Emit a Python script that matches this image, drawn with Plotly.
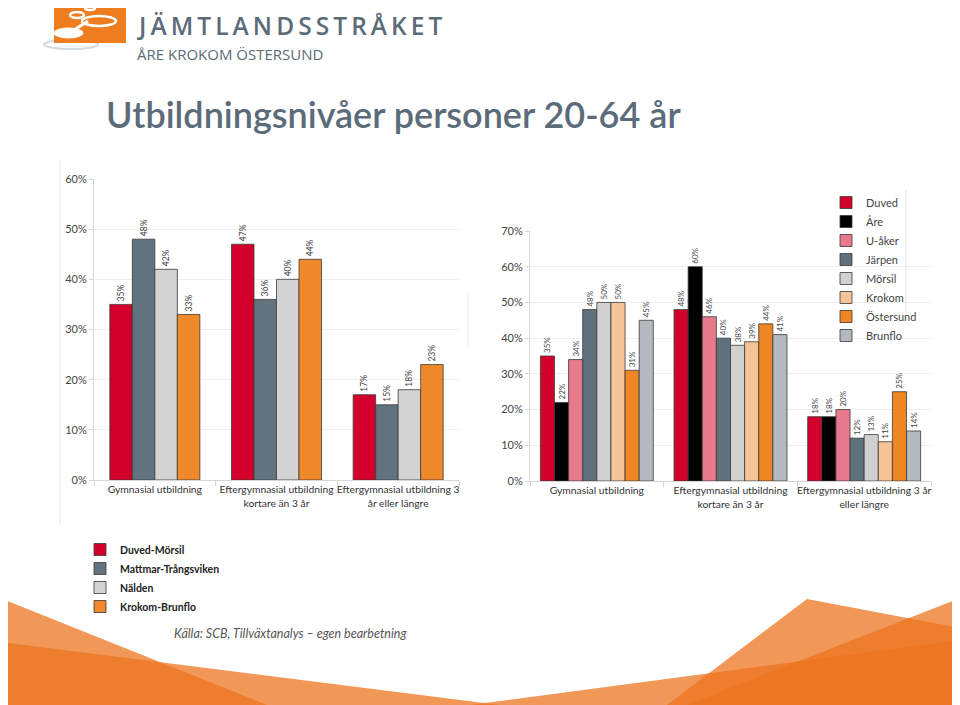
import plotly.graph_objects as go

# ---------------- data ----------------
left_categories = ["Gymnasial utbildning",
                   "Eftergymnasial utbildning<br>kortare än 3 år",
                   "Eftergymnasial utbildning 3<br>år eller längre"]
left_series = ["Duved-Mörsil", "Mattmar-Trångsviken", "Nälden", "Krokom-Brunflo"]
duved_morsil = [35, 47, 17]
mattmar_trangsviken = [48, 36, 15]
nalden = [42, 40, 18]
krokom_brunflo = [33, 44, 23]
left_values = [duved_morsil, mattmar_trangsviken, nalden, krokom_brunflo]
left_colors = ["#d2002a", "#61737f", "#d3d3d3", "#f0892a"]

right_categories = ["Gymnasial utbildning",
                    "Eftergymnasial utbildning<br>kortare än 3 år",
                    "Eftergymnasial utbildning 3 år<br>eller längre"]
right_series = ["Duved", "Åre", "U-åker", "Järpen", "Mörsil", "Krokom", "Östersund", "Brunflo"]
duved = [35, 48, 18]
are = [22, 60, 18]
u_aker = [34, 46, 20]
jarpen = [48, 40, 12]
morsil = [50, 38, 13]
krokom = [50, 39, 11]
ostersund = [31, 44, 25]
brunflo = [45, 41, 14]
right_values = [duved, are, u_aker, jarpen, morsil, krokom, ostersund, brunflo]
right_colors = ["#d2002a", "#000000", "#e9798c", "#5f717d", "#d0d0d0", "#f6c396", "#ef8624", "#b3b9bf"]

left_ticks = [0, 10, 20, 30, 40, 50, 60]
right_ticks = [0, 10, 20, 30, 40, 50, 60, 70]

W, H = 960, 705
OFF = 8  # page body margin
FONT = "Lato"


def fx(x):
    return (x - OFF) / W


def fy(y):
    return 1 - (y - OFF) / H


def path(points):
    s = ""
    for i, (x, y) in enumerate(points):
        s += ("M" if i == 0 else "L") + f"{fx(x):.5f},{fy(y):.5f} "
    return s + "Z"


fig = go.Figure()

# left chart
n_l = len(left_series)
grp_l = 0.74
w_l = grp_l / n_l
for i, (name, vals, col) in enumerate(zip(left_series, left_values, left_colors)):
    fig.add_trace(go.Bar(
        x=left_categories, y=vals, name=name,
        marker=dict(color=col, line=dict(color="#3a3a3a", width=0.8)),
        width=w_l, offset=-grp_l / 2 + i * w_l,
        text=[f"{v}%" for v in vals], textposition="outside", textangle=-90,
        outsidetextfont=dict(family=FONT, size=8.5, color="#444444"),
        constraintext="none", cliponaxis=False,
        xaxis="x", yaxis="y", legend="legend",
    ))

# right chart
n_r = len(right_series)
grp_r = 0.845
w_r = grp_r / n_r
for i, (name, vals, col) in enumerate(zip(right_series, right_values, right_colors)):
    fig.add_trace(go.Bar(
        x=right_categories, y=vals, name=name,
        marker=dict(color=col, line=dict(color="#3a3a3a", width=0.8)),
        width=w_r, offset=-grp_r / 2 + i * w_r,
        text=[f"{v}%" for v in vals], textposition="outside", textangle=-90,
        outsidetextfont=dict(family=FONT, size=8, color="#444444"),
        constraintext="none", cliponaxis=False,
        xaxis="x2", yaxis="y2", legend="legend2",
    ))

axis_common_x = dict(type="category", showline=True, linecolor="#d6d6d6", linewidth=1,
                     ticks="outside", tickson="boundaries", ticklen=5, tickcolor="#d6d6d6",
                     tickangle=0, automargin=False,
                     tickfont=dict(family=FONT, size=10.3, color="#333333"), showgrid=False,
                     range=[-0.5, 2.5], fixedrange=True)
axis_common_y = dict(showgrid=True, gridcolor="#efefef", gridwidth=1, showline=True,
                     linecolor="#d6d6d6", ticks="outside", ticklen=4, tickcolor="#d6d6d6",
                     zeroline=False, automargin=False, tickmode="array",
                     tickfont=dict(family=FONT, size=11, color="#444444"))

shapes = []
# decorative orange background polygons
orange = "#ec7420"
for pts in [
    [(0, 598), (267, 705), (0, 705)],
    [(0, 642), (500, 705), (0, 705)],
    [(960, 640), (470, 705), (960, 705)],
    [(667, 705), (807, 599), (960, 628), (960, 705)],
    [(960, 598), (687, 705), (960, 705)],
]:
    shapes.append(dict(type="path", xref="paper", yref="paper", path=path(pts),
                       fillcolor=orange, opacity=0.75, line=dict(width=0), layer="below"))

# logo
shapes.append(dict(type="circle", xref="paper", yref="paper", x0=fx(44), y0=fy(49), x1=fx(98), y1=fy(40),
                   fillcolor="rgba(0,0,0,0)", line=dict(color="#d3d9de", width=2)))
shapes.append(dict(type="rect", xref="paper", yref="paper", x0=fx(54), y0=fy(43), x1=fx(126), y1=fy(3),
                   fillcolor="#ee7d1f", line=dict(width=0)))
shapes.append(dict(type="line", xref="paper", yref="paper", x0=fx(74), y0=fy(30), x1=fx(88), y1=fy(21),
                   line=dict(color="white", width=3)))
shapes.append(dict(type="circle", xref="paper", yref="paper", x0=fx(54), y0=fy(38), x1=fx(83), y1=fy(28),
                   fillcolor="white", line=dict(color="white", width=1)))
for (cx, cy, rx, ry) in [(99, 21, 17, 5), (77, 15, 7, 3), (90, 8, 5, 2)]:
    shapes.append(dict(type="circle", xref="paper", yref="paper",
                       x0=fx(cx - rx), y0=fy(cy + ry), x1=fx(cx + rx), y1=fy(cy - ry),
                       fillcolor="rgba(255,255,255,0)", line=dict(color="white", width=2.5)))

# faint frame lines
for (xa, ya, xb, yb) in [(60, 160, 60, 525), (468, 295, 468, 345), (906, 190, 906, 320)]:
    shapes.append(dict(type="line", xref="paper", yref="paper", x0=fx(xa), y0=fy(ya), x1=fx(xb), y1=fy(yb),
                       line=dict(color="#e2e2e2", width=1)))

annotations = [
    dict(text="J\u2009Ä\u2009M\u2009T\u2009L\u2009A\u2009N\u2009D\u2009S\u2009S\u2009T\u2009R\u2009Å\u2009K\u2009E\u2009T",
         x=fx(136), y=fy(8.5), xref="paper", yref="paper", xanchor="left", yanchor="top",
         borderpad=0, showarrow=False,
         font=dict(family="Open Sans", size=24.5, color="#5b6b78", weight=600)),
    dict(text="ÅRE KROKOM ÖSTERSUND", x=fx(136), y=fy(42.5), xref="paper", yref="paper",
         xanchor="left", yanchor="top", borderpad=0, showarrow=False,
         font=dict(family="Open Sans", size=15, color="#5b6b78")),
    dict(text="Utbildningsnivåer personer 20-64 år", x=fx(104), y=fy(114), xref="paper",
         yref="paper", xanchor="left", yanchor="middle", showarrow=False,
         font=dict(family=FONT, size=36, color="#5b6b79", weight=600)),
    dict(text="<i>Källa: SCB, Tillväxtanalys – egen bearbetning</i>", x=fx(172), y=fy(633),
         xref="paper", yref="paper", xanchor="left", yanchor="middle", showarrow=False,
         font=dict(family=FONT, size=12.5, color="#555555")),
]

fig.update_layout(
    width=W, height=H, autosize=False,
    margin=dict(l=0, r=0, t=0, b=0, pad=0, autoexpand=False),
    paper_bgcolor="white", plot_bgcolor="rgba(0,0,0,0)",
    barmode="overlay",
    font=dict(family=FONT, color="#333333"),
    xaxis=dict(axis_common_x, domain=[fx(94), fx(459)], anchor="y"),
    yaxis=dict(axis_common_y, domain=[fy(480), fy(179)], range=[0, 60],
               tickvals=left_ticks, ticktext=[f"{v}%" for v in left_ticks], anchor="x"),
    xaxis2=dict(axis_common_x, domain=[fx(530), fx(931)], anchor="y2"),
    yaxis2=dict(axis_common_y, domain=[fy(481), fy(231)], range=[0, 70],
                tickvals=right_ticks, ticktext=[f"{v}%" for v in right_ticks], anchor="x2"),
    legend=dict(x=fx(80), y=fy(535), xanchor="left", yanchor="top",
                bgcolor="rgba(0,0,0,0)", font=dict(family=FONT, size=10.5, color="#222222", weight="bold"),
                itemwidth=30, tracegroupgap=0),
    legend2=dict(x=fx(826), y=fy(188), xanchor="left", yanchor="top",
                 bgcolor="rgba(0,0,0,0)", font=dict(family=FONT, size=11, color="#444444"),
                 itemwidth=30, tracegroupgap=0),
    showlegend=True,
    shapes=shapes,
    annotations=annotations,
)

fig.write_html("out.html")
